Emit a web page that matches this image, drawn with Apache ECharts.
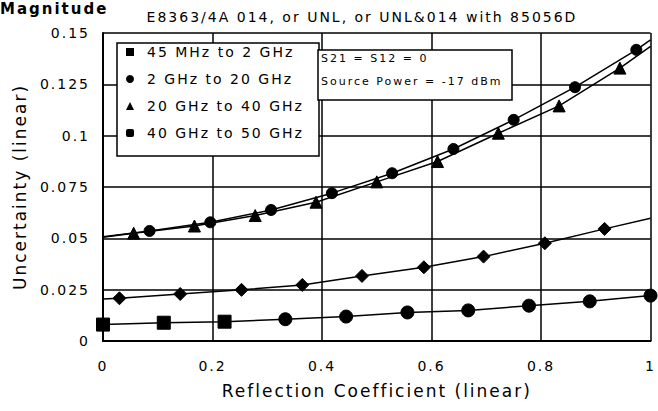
<!DOCTYPE html>
<html><head><meta charset="utf-8">
<script src="https://cdn.jsdelivr.net/npm/echarts@6/dist/echarts.min.js"></script>
<style>html,body{margin:0;padding:0;background:#fff}#c{width:658px;height:411px}#c svg text{letter-spacing:2px}</style>
</head><body><div id="c"></div>
<script>
const seriesNames = ['45 MHz to 2 GHz', '2 GHz to 20 GHz', '20 GHz to 40 GHz', '40 GHz to 50 GHz'];
const xRange = [0, 1, 0.2];
const yRange = [0, 0.15, 0.025];
// 45 MHz to 2 GHz
const s1X = [0, 0.111, 0.222, 0.333, 0.444, 0.556, 0.667, 0.778, 0.889, 1.0];
const s1Y = [0.0080, 0.0089, 0.0094, 0.0106, 0.0119, 0.0139, 0.0149, 0.0172, 0.0193, 0.0221];
// 2 GHz to 20 GHz (markers, then curve values at x=0 and x=1)
const s2X = [0.030, 0.141, 0.253, 0.364, 0.473, 0.586, 0.695, 0.807, 0.916];
const s2Y = [0.0208, 0.0229, 0.0249, 0.0273, 0.0317, 0.0359, 0.0411, 0.0476, 0.0546];
const s2Ends = [0.0205, 0.0598];
// 20 GHz to 40 GHz
const s3X = [0.056, 0.167, 0.278, 0.389, 0.500, 0.611, 0.722, 0.833, 0.944];
const s3Y = [0.0525, 0.0560, 0.0611, 0.0676, 0.0775, 0.0874, 0.1012, 0.1145, 0.1329];
const s3Ends = [0.0505, 0.1435];
// 40 GHz to 50 GHz
const s4X = [0.085, 0.196, 0.307, 0.418, 0.528, 0.640, 0.750, 0.862, 0.974];
const s4Y = [0.0536, 0.0578, 0.0638, 0.0720, 0.0817, 0.0935, 0.1077, 0.1236, 0.1418];
const s4Ends = [0.0508, 0.1467];

const titleText = 'Magnitude';
const subText = 'E8363/4A 014, or UNL, or UNL&014 with 85056D';
const noteLines = ['S21 = S12 = 0', 'Source Power = -17 dBm'];
const xName = 'Reflection Coefficient (linear)';
const yName = 'Uncertainty (linear)';

const FONT = 'DejaVu Sans';

function pts(xs, ys, ends) {
  const d = xs.map((x, i) => [x, ys[i]]);
  if (ends) { d.unshift([0, ends[0]]); d.push([1, ends[1]]); }
  return d;
}
function symFn(shape, hasEnds, n) {
  return function (v, p) {
    if (hasEnds && (p.dataIndex === 0 || p.dataIndex === n - 1)) return 'none';
    return typeof shape === 'function' ? shape(p.dataIndex) : shape;
  };
}
const d1 = pts(s1X, s1Y), d2 = pts(s2X, s2Y, s2Ends), d3 = pts(s3X, s3Y, s3Ends), d4 = pts(s4X, s4Y, s4Ends);
const lineSty = { color: '#000', width: 1.5 };
function mk(name, data, shape, size, hasEnds) {
  return {
    name: name, type: 'line', data: data, z: 2,
    symbol: symFn(shape, hasEnds, data.length), symbolSize: size,
    itemStyle: { color: '#000', borderColor: '#000' },
    lineStyle: lineSty, silent: true
  };
}

const chart = echarts.init(document.getElementById('c'), null, { renderer: 'svg' });
chart.setOption({
  animation: false,
  backgroundColor: '#fff',
  grid: { left: 103, right: 6, top: 33, bottom: 70, containLabel: false, show: false },
  xAxis: {
    type: 'value', min: xRange[0], max: xRange[1], interval: xRange[2],
    name: xName, nameLocation: 'middle', nameGap: 41,
    nameTextStyle: { fontFamily: FONT, fontSize: 17, color: '#000' },
    axisLine: { show: true, lineStyle: { color: '#000', width: 2 } },
    axisTick: { show: false },
    axisLabel: { margin: 18, fontFamily: FONT, fontSize: 14, color: '#000' },
    splitLine: { show: true, lineStyle: { color: '#000', width: 1.5 } }
  },
  yAxis: {
    type: 'value', min: yRange[0], max: yRange[1], interval: yRange[2],
    name: yName, nameLocation: 'middle', nameGap: 75, nameRotate: 90,
    nameTextStyle: { fontFamily: FONT, fontSize: 17, color: '#000' },
    axisLine: { show: true, lineStyle: { color: '#000', width: 2 } },
    axisTick: { show: false },
    axisLabel: { margin: 13, fontFamily: FONT, fontSize: 14, color: '#000' },
    splitLine: { show: true, lineStyle: { color: '#000', width: 1.5 } }
  },
  legend: {
    orient: 'vertical', left: 126, top: 45, z: 5,
    itemWidth: 8, itemHeight: 8, itemGap: 13, padding: 0,
    textStyle: { fontFamily: FONT, fontSize: 14, color: '#000', lineHeight: 14, padding: [0, 0, 0, 8] },
    data: [
      { name: seriesNames[0], icon: 'rect' },
      { name: seriesNames[1], icon: 'circle' },
      { name: seriesNames[2], icon: 'triangle' },
      { name: seriesNames[3], icon: 'roundRect' }
    ],
    selectedMode: false
  },
  graphic: [
    { type: 'rect', z: 3, shape: { x: 117, y: 43, width: 202, height: 113 },
      style: { fill: '#fff', stroke: '#000', lineWidth: 1.5 } },
    { type: 'rect', z: 3, shape: { x: 318, y: 50, width: 194, height: 50 },
      style: { fill: '#fff', stroke: '#000', lineWidth: 1.5 } },
    { type: 'text', z: 5, x: 321, y: 58, style: { text: noteLines[0], fill: '#000', font: '11px "DejaVu Sans"', textVerticalAlign: 'middle' } },
    { type: 'text', z: 5, x: 321, y: 81, style: { text: noteLines[1], fill: '#000', font: '11px "DejaVu Sans"', textVerticalAlign: 'middle' } },
    { type: 'text', z: 5, x: 362, y: 17, style: { text: subText, fill: '#000', font: '14px "DejaVu Sans"', textAlign: 'center', textVerticalAlign: 'middle' } },
    { type: 'text', z: 5, x: 0, y: 1, style: { text: titleText, fill: '#000', font: 'bold 15px "DejaVu Sans"', textAlign: 'left', textVerticalAlign: 'top' } }
  ],
  series: [
    mk(seriesNames[0], d1, i => (i < 3 ? 'rect' : 'circle'), 13, false),
    mk(seriesNames[1], d2, 'diamond', 13, true),
    mk(seriesNames[2], d3, 'triangle', 12, true),
    mk(seriesNames[3], d4, 'circle', 11, true)
  ]
});
</script></body></html>
